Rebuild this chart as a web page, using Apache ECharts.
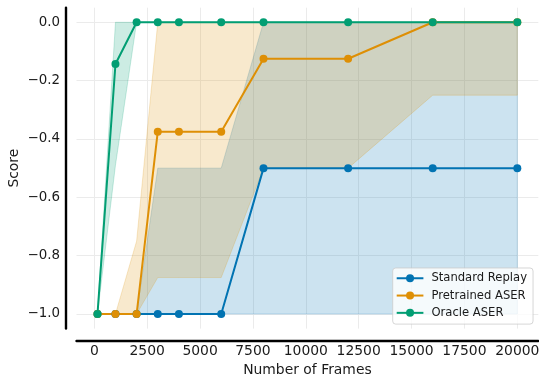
<!DOCTYPE html>
<html>
<head>
<meta charset="utf-8">
<script src="https://cdn.jsdelivr.net/npm/echarts@6/dist/echarts.min.js"></script>
<style>
  html, body { margin: 0; padding: 0; background: #ffffff; }
  #chart { width: 539px; height: 381px; }
</style>
</head>
<body>
<div id="chart"></div>
<script>
// Evaluation checkpoints (number of frames)
const frames = [150, 1000, 2000, 3000, 4000, 6000, 8000, 12000, 16000, 20000];

// Standard Replay: mean score and shaded band
const standardMean  = [-1, -1, -1, -1, -1, -1, -0.5, -0.5, -0.5, -0.5];
const standardUpper = [-1, -1, -1, -0.5, -0.5, -0.5, 0, 0, 0, 0];
const standardLower = [-1, -1, -1, -1, -1, -1, -1, -1, -1, -1];

// Pretrained ASER
const pretrainedMean  = [-1, -1, -1, -0.375, -0.375, -0.375, -0.125, -0.125, 0, 0];
const pretrainedUpper = [-1, -1, -0.75, 0, 0, 0, 0, 0, 0, 0];
const pretrainedLower = [-1, -1, -1, -0.875, -0.875, -0.875, -0.5, -0.5, -0.25, -0.25];

// Oracle ASER
const oracleMean  = [-1, -0.143, 0, 0, 0, 0, 0, 0, 0, 0];
const oracleUpper = [-1, 0, 0, 0, 0, 0, 0, 0, 0, 0];
const oracleLower = [-1, -0.49, 0, 0, 0, 0, 0, 0, 0, 0];

// Axis ticks
const xTicks = [0, 2500, 5000, 7500, 10000, 12500, 15000, 17500, 20000];
const yTicks = [-1, -0.8, -0.6, -0.4, -0.2, 0];

const FONT = 'DejaVu Sans';
const TEXT = '#1a1a1a';

const colors = {
  standard: [1, 115, 178],
  pretrained: [222, 143, 5],
  oracle: [2, 158, 115]
};
const rgb = (c) => 'rgb(' + c.join(',') + ')';
const rgba = (c, a) => 'rgba(' + c.join(',') + ',' + a + ')';

// Shaded band between lower and upper curves, drawn as one polygon in data space
function band(c, upper, lower) {
  return {
    type: 'custom',
    silent: true,
    clip: true,
    data: [[frames[0], lower[0]]],
    renderItem: function (params, api) {
      if (params.dataIndex !== 0) return null;
      const pts = [];
      for (let i = 0; i < frames.length; i++) pts.push(api.coord([frames[i], upper[i]]));
      for (let i = frames.length - 1; i >= 0; i--) pts.push(api.coord([frames[i], lower[i]]));
      return {
        type: 'polygon',
        shape: { points: pts },
        style: { fill: rgba(c, 0.2), stroke: rgba(c, 0.2), lineWidth: 1 }
      };
    }
  };
}

function line(name, c, values) {
  return {
    name: name,
    type: 'line',
    data: frames.map((x, i) => [x, values[i]]),
    symbol: 'circle',
    symbolSize: 8,
    showSymbol: true,
    lineStyle: { color: rgb(c), width: 2 },
    itemStyle: { color: rgb(c), borderWidth: 0 },
    emphasis: { disabled: true }
  };
}

const fmtY = (v) => {
  const r = Math.round(v * 10) / 10;
  return (r < 0 ? '\u2212' : '') + Math.abs(r).toFixed(1);
};

const chart = echarts.init(document.getElementById('chart'), null, { renderer: 'canvas' });
chart.setOption({
  animation: false,
  backgroundColor: '#ffffff',
  grid: { left: 76.5, right: 0.7, top: 7.7, bottom: 52.4, containLabel: false, outerBoundsMode: 'none' },
  xAxis: {
    type: 'value',
    min: -842.5,
    max: 20992.5,
    offset: 12,
    axisLine: { show: true, onZero: false, lineStyle: { color: '#000', width: 2.4 } },
    axisTick: { show: false, customValues: xTicks },
    axisLabel: {
      customValues: xTicks,
      formatter: (v) => String(Math.round(v)),
      fontFamily: FONT, fontSize: 13.9, color: TEXT, margin: 4
    },
    splitLine: { show: true, lineStyle: { color: '#ebebeb', width: 1 } },
    name: 'Number of Frames',
    nameLocation: 'middle',
    nameGap: 23,
    nameMoveOverlap: false,
    nameTextStyle: { fontFamily: FONT, fontSize: 13.9, color: TEXT }
  },
  yAxis: {
    type: 'value',
    min: -1.05,
    max: 0.05,
    offset: 11,
    axisLine: { show: true, onZero: false, lineStyle: { color: '#000', width: 2.4 } },
    axisTick: { show: false, customValues: yTicks },
    axisLabel: {
      customValues: yTicks,
      formatter: fmtY,
      fontFamily: FONT, fontSize: 13.4, color: TEXT, margin: 5.5
    },
    splitLine: { show: true, lineStyle: { color: '#ebebeb', width: 1 } },
    name: 'Score',
    nameLocation: 'middle',
    nameGap: 44,
    nameMoveOverlap: false,
    nameTextStyle: { fontFamily: FONT, fontSize: 13.9, color: TEXT }
  },
  legend: {
    data: ['Standard Replay', 'Pretrained ASER', 'Oracle ASER'],
    orient: 'vertical',
    left: 392.7,
    top: 268,
    padding: [3.5, 6, 4.5, 3],
    itemGap: 3.8,
    itemWidth: 26.7,
    itemHeight: 10,
    backgroundColor: 'rgba(255,255,255,0.8)',
    borderColor: 'rgba(204,204,204,0.8)',
    borderWidth: 1,
    borderRadius: 3,
    selectedMode: false,
    textStyle: { fontFamily: FONT, fontSize: 11.6, color: TEXT, lineHeight: 13.5, padding: [0, 0, 0, 3] }
  },
  series: [
    band(colors.standard, standardUpper, standardLower),
    line('Standard Replay', colors.standard, standardMean),
    band(colors.pretrained, pretrainedUpper, pretrainedLower),
    line('Pretrained ASER', colors.pretrained, pretrainedMean),
    band(colors.oracle, oracleUpper, oracleLower),
    line('Oracle ASER', colors.oracle, oracleMean)
  ]
});
</script>
</body>
</html>
